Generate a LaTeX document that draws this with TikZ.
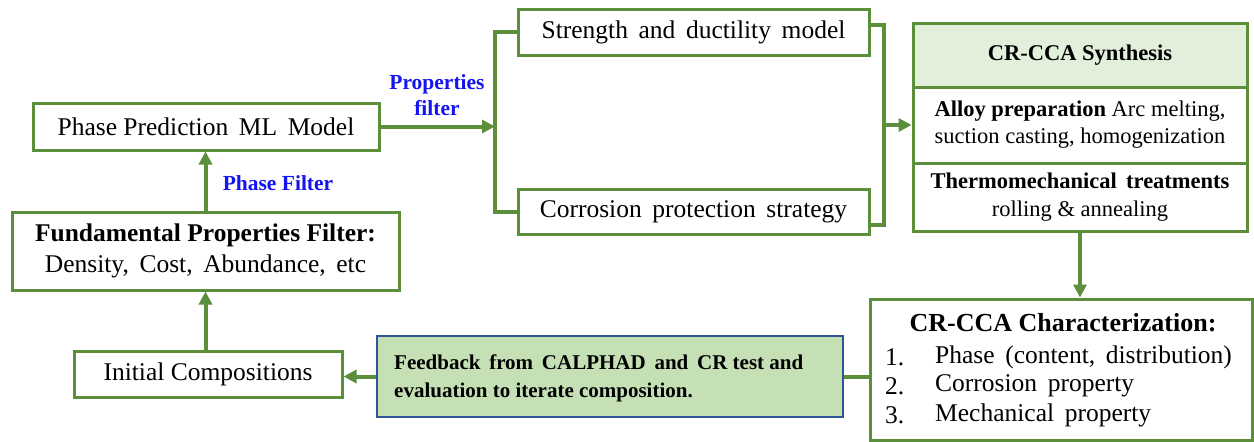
\documentclass[tikz,border=0pt]{standalone}
\usepackage{fontspec}
\setmainfont{Liberation Serif}
\usetikzlibrary{arrows.meta}
\definecolor{gline}{RGB}{91,143,59}
\definecolor{hfill}{RGB}{226,239,218}
\definecolor{ffill}{RGB}{197,224,180}
\definecolor{fborder}{RGB}{47,85,151}
\definecolor{lblue}{RGB}{20,20,240}
\tikzset{
  gbox/.style={draw=gline, line width=3pt, fill=white, inner sep=0pt, align=center},
  conn/.style={draw=gline, line width=4pt},
  arr/.style={conn, -{Triangle[length=13pt,width=13pt]}},
  mainf/.style={font=\fontsize{25.5}{30}\selectfont},
  synf/.style={font=\fontsize{22.5}{27}\selectfont},
  lbl/.style={text=lblue, font=\fontsize{21.5}{26}\selectfont\bfseries, align=center, inner sep=0pt},
  txt/.style={inner sep=0pt, mainf}
}
\begin{document}
\begin{tikzpicture}[x=1pt,y=-1pt]
\useasboundingbox (0,0) rectangle (1254,442);
% left column
\node[gbox, mainf, minimum width=346pt, minimum height=47pt] (pp) at (206,126.5) {Phase Prediction\, ML\, Model};
\node[gbox, minimum width=387pt, minimum height=78pt, font=\fontsize{25.5}{31}\selectfont] (fp) at (205.5,251)
  {\textbf{Fundamental Properties Filter:}\\Density,\, Cost,\, Abundance,\, etc};
\node[gbox, mainf, minimum width=268pt, minimum height=46pt] (ic) at (208,374) {Initial Compositions};
% middle column
\node[gbox, mainf, minimum width=351pt, minimum height=46pt] (sd) at (693.5,32) {Strength\, and\, ductility\, model};
\node[gbox, mainf, minimum width=351pt, minimum height=45pt] (cp) at (693.5,211.5) {Corrosion\, protection\, strategy};
% synthesis block
\node[gbox, synf, fill=hfill, minimum width=334pt, minimum height=64pt] (synH) at (1080,55) {\textbf{CR-CCA Synthesis}};
\node[gbox, minimum width=334pt, minimum height=76pt, font=\fontsize{22.5}{27}\selectfont] (synA) at (1080,125)
  {\textbf{Alloy preparation} Arc melting,\\suction casting, homogenization};
\node[gbox, minimum width=334pt, minimum height=68pt, font=\fontsize{22.5}{28}\selectfont] (synT) at (1080,197)
  {\textbf{Thermomechanical\, treatments}\\rolling \& annealing};
% characterization
\node[gbox, minimum width=382pt, minimum height=141pt] (ch) at (1061,369.5) {};
\node[txt, font=\fontsize{26}{30}\selectfont] (chT) at (1063,323) {\textbf{CR-CCA Characterization:}};
\node[txt, anchor=west] (n1) at (885,357) {1.};
\node[txt, anchor=west] (t1) at (935,357) {Phase\, (content,\, distribution)};
\node[txt, anchor=west] (n2) at (885,386) {2.};
\node[txt, anchor=west] (t2) at (935,386) {Corrosion\, property};
\node[txt, anchor=west] (n3) at (885,415) {3.};
\node[txt, anchor=west] (t3) at (935,415) {Mechanical\, property};
% feedback
\node[draw=fborder, line width=2.5pt, fill=ffill, minimum width=466pt, minimum height=81pt, inner sep=0pt] (fb) at (610,376.5) {};
\node[inner sep=0pt, anchor=west, align=left, font=\fontsize{21}{28}\selectfont\bfseries] (fbt) at (394,378)
  {Feedback\, from\, CALPHAD\, and\, CR test and\\evaluation to iterate composition.};
% labels
\node[lbl] (lpf) at (437,95) {Properties\\filter};
\node[lbl] (lph) at (278,183) {Phase Filter};
% coordinates for brackets
\coordinate (lbx) at (495,0);
\coordinate (rbT) at (884,25);
\coordinate (rbB) at (884,225);
% connectors
\draw[arr] (ic.north -| fp.south) -- (fp.south);
\draw[arr] (fp.north) -- (fp.north |- pp.south);
\draw[arr] (pp.east) -- (pp.east -| lbx);
\draw[conn] (sd.west) -| (lbx |- cp.west) -- (cp.west);
\draw[conn] (sd.east |- rbT) -- (rbT) -- (rbB) -- (cp.east |- rbB);
\draw[arr] (rbT |- synA.west) -- (synA.west);
\draw[arr] (synT.south) -- (ch.north -| synT.south);
\draw[conn] (ch.west |- fb.east) -- (fb.east);
\draw[arr] (fb.west) -- (fb.west -| ic.east);
\end{tikzpicture}
\end{document}
